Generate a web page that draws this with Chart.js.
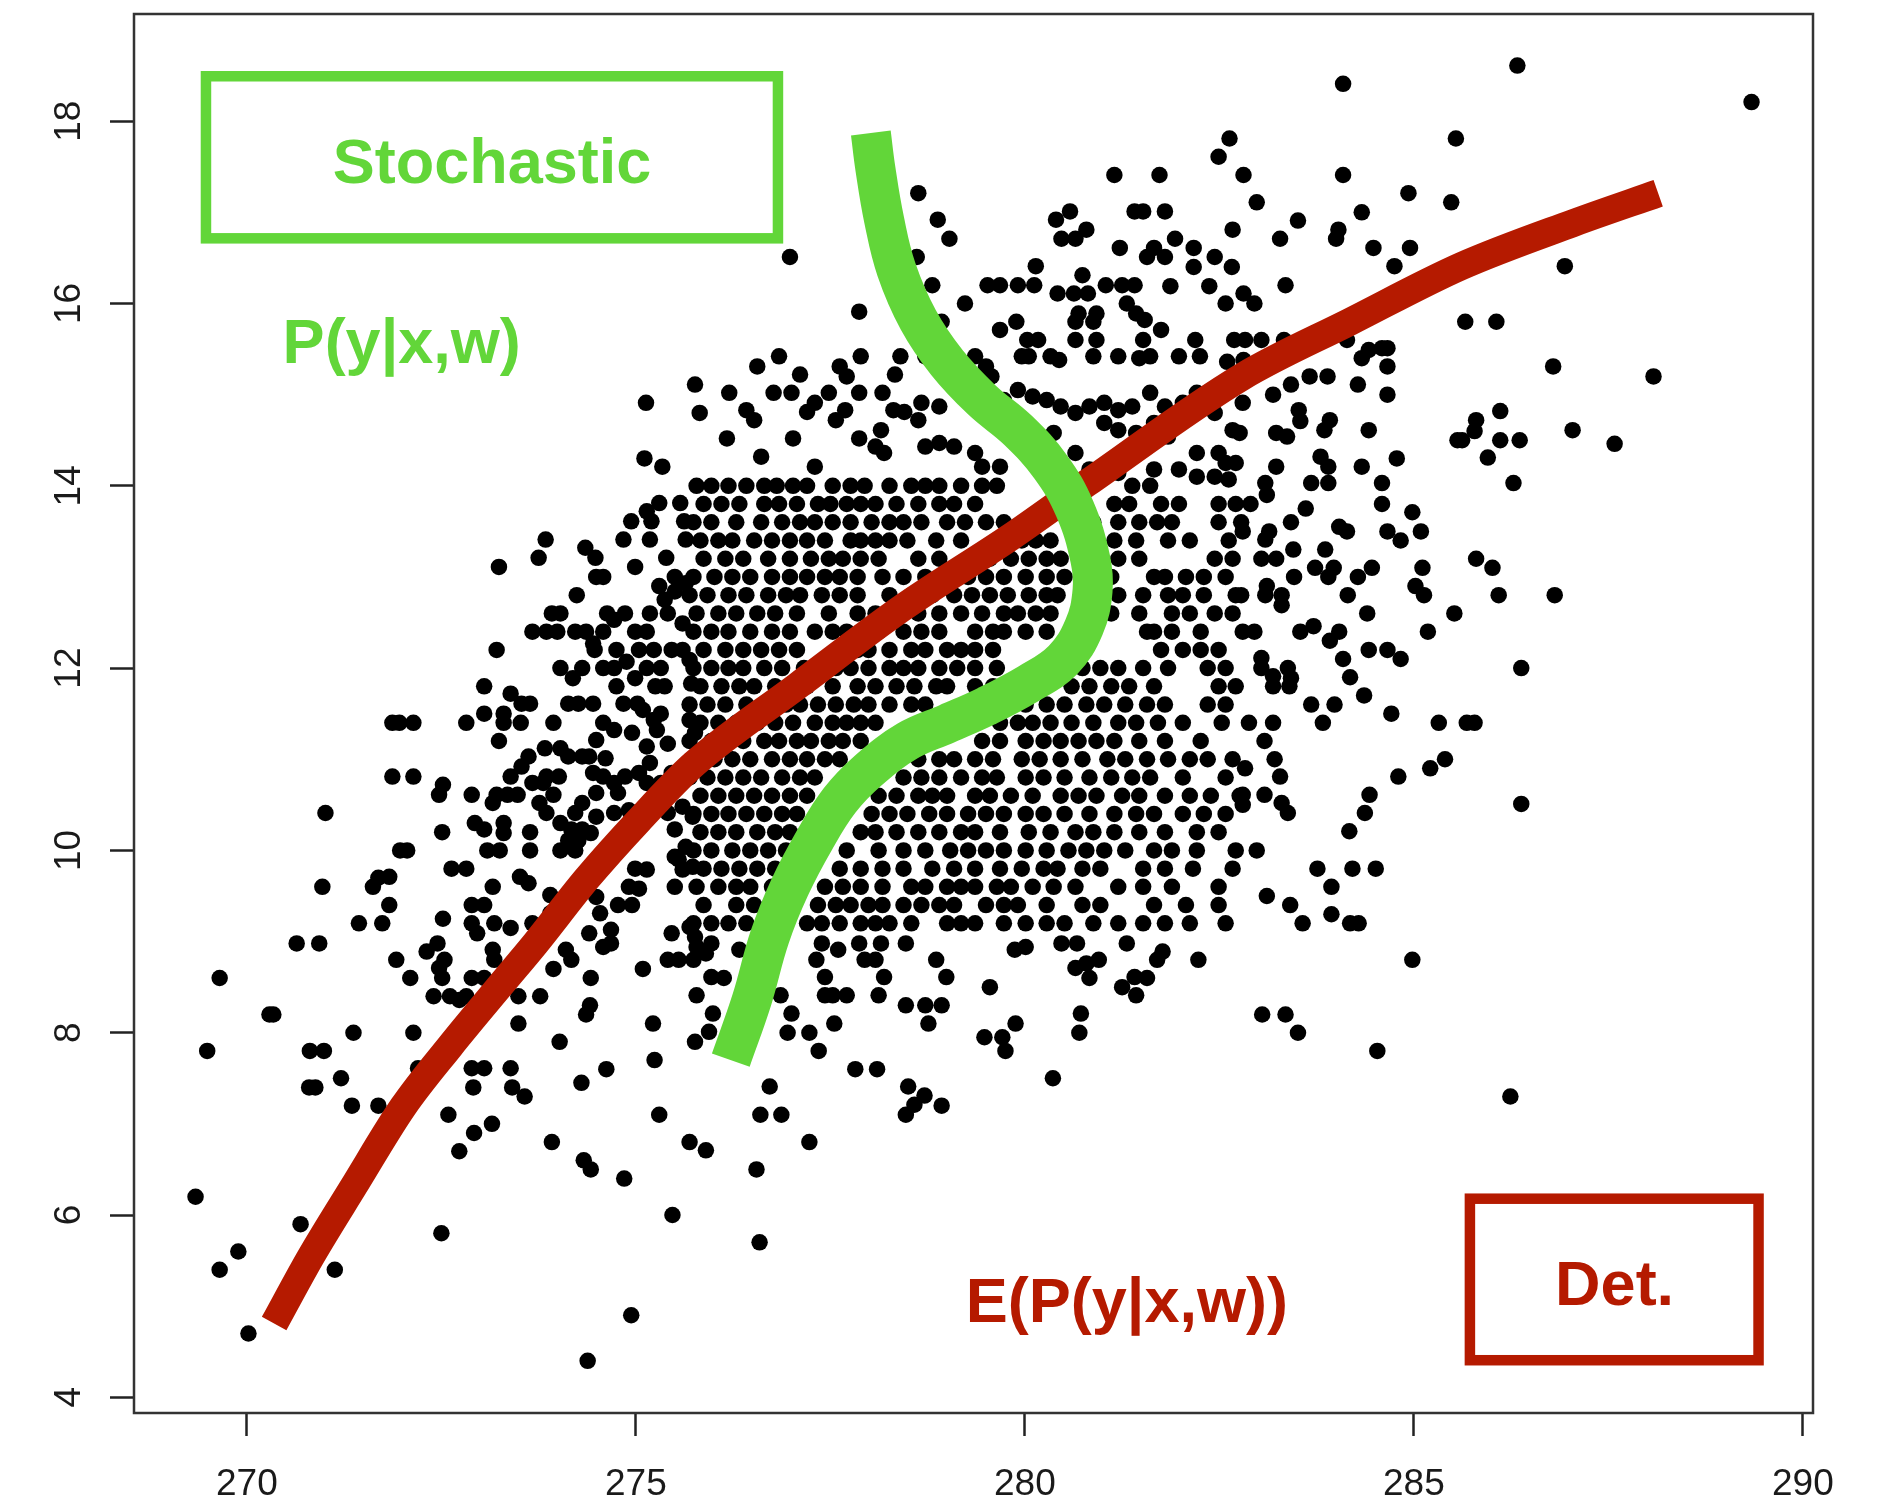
<!DOCTYPE html>
<html>
<head>
<meta charset="utf-8">
<script src="https://cdn.jsdelivr.net/npm/chart.js@4.4.1/dist/chart.umd.min.js"></script>
<style>
  html, body { margin: 0; padding: 0; background: #fff; }
</style>
</head>
<body>
<canvas id="scatterCanvas" width="1885" height="1504"></canvas>
<script>
const xTicks = [270, 275, 280, 285, 290];
const yTicks = [4, 6, 8, 10, 12, 14, 16, 18];

// scattered points, read one by one
const outerPoints = [
  [275.13,14.91],[275.76,15.11],[275.82,14.8],[275.11,14.3],[275.34,14.21],
  [278.63,17.21],[278.88,16.92],[279.03,16.71],[276.98,16.51],[281.15,17.41],[281.73,17.41],[282.63,17.81],[282.49,17.61],[282.81,17.41],
  [280.58,17.01],[280.4,16.92],[280.79,16.81],[280.47,16.71],[280.65,16.71],
  [281.41,17.01],[281.52,17.01],[281.8,17.01],[281.22,16.61],[281.66,16.61],[281.57,16.51],[281.8,16.51],[281.93,16.71],[282.17,16.61],[282.17,16.4],[282.44,16.51],[282.66,16.4],[282.67,16.81],
  [281.87,16.19],[282.37,16.19],[282.58,16.0],[282.81,16.11],[282.83,15.6],[282.81,15.38],
  [280.14,16.41],[280.74,16.31],[279.52,16.2],[279.68,16.2],[279.91,16.2],[280.12,16.2],
  [280.42,16.11],[280.63,16.11],[280.81,16.11],[281.04,16.2],[281.25,16.2],[281.41,16.2],
  [279.23,16.0],[278.81,16.2],[278.61,16.51],[280.69,15.89],[280.92,15.89],
  [281.31,16.0],[281.43,15.89],[281.54,15.82],[281.75,15.71],[279.68,15.71],[279.89,15.8],
  [280.65,15.8],[280.88,15.8],[280.03,15.6],[280.17,15.6],[280.65,15.6],[280.92,15.6],[281.52,15.6],[282.19,15.6],[282.69,15.6],
  [278.93,15.8],[277.87,15.91],[278.4,15.42],[278.72,15.42],[279.36,15.42],[279.5,15.31],[279.57,15.2],
  [279.96,15.42],[280.05,15.42],[280.33,15.42],[280.44,15.38],[280.88,15.42],[281.2,15.42],[281.47,15.4],[281.61,15.42],[281.98,15.42],[282.25,15.42],[282.6,15.36],
  [276.84,15.42],[276.56,15.31],[277.11,15.22],[277.62,15.31],[277.71,15.2],[277.89,15.42],
  [276.2,15.02],[276.77,15.02],[277.0,15.02],
  [276.42,14.83],[276.52,14.72],[277.2,14.81],[277.3,14.91],[277.48,15.02],[277.57,14.72],[277.69,14.83],[277.87,15.02],[278.17,15.02],[278.33,15.22],
  [276.17,14.52],[276.61,14.32],[277.02,14.52],[277.3,14.21],[277.87,14.52],[278.15,14.61],[278.08,14.43],[278.19,14.36],
  [278.45,14.81],[278.63,14.72],[278.31,14.83],[278.67,14.91],[278.9,14.87],
  [278.72,14.43],[278.9,14.47],[279.09,14.43],[279.36,14.36],[279.45,14.21],[279.68,14.21],
  [279.73,14.94],[279.91,15.05],[280.1,14.98],[280.28,14.94],
  [280.46,14.87],[280.65,14.8],[280.83,14.87],[281.02,14.91],[281.2,14.83],[281.38,14.87],
  [281.61,15.02],[281.8,14.87],[282.03,14.91],[282.21,15.02],[282.44,14.8],[282.67,14.61],
  [281.02,14.69],[281.2,14.61],[281.43,14.58],[281.66,14.69],[281.84,14.54],
  [282.21,14.36],[282.49,14.36],[282.71,14.25],[281.98,14.18],[282.21,14.1],
  [281.43,14.36],[281.66,14.18],[281.02,14.1],[281.2,14.14],[280.65,14.36],[280.83,14.18],
  [280.37,14.58],[280.28,14.43],[279.96,14.43],[280.1,14.32],[282.44,14.1],[282.58,14.25],
  [282.76,14.58],[282.62,14.07],
  [284.09,18.41],[286.33,18.61],[289.34,18.21],[285.54,17.81],[284.09,17.41],[282.98,17.11],[285.48,17.11],[284.93,17.21],[284.33,17.0],[283.51,16.91],
  [283.28,16.71],[284.03,16.81],[284.0,16.71],[284.48,16.61],[284.95,16.61],[284.75,16.41],[286.94,16.41],
  [283.35,16.2],[282.95,16.0],[285.66,15.8],[286.06,15.8],[283.04,15.6],[283.33,15.6],[284.14,15.6],
  [284.42,15.49],[284.59,15.51],[284.66,15.51],[284.33,15.4],[284.66,15.31],
  [283.66,15.2],[283.89,15.2],[284.28,15.11],[284.66,15.0],[283.19,15.0],[283.42,15.11],[282.8,14.91],
  [286.79,15.31],[288.08,15.2],[286.11,14.82],[285.8,14.72],[285.78,14.6],[285.56,14.5],[285.62,14.5],
  [286.11,14.5],[286.36,14.5],[287.04,14.61],[287.58,14.46],[285.95,14.31],
  [283.52,14.83],[283.54,14.71],[283.23,14.58],[283.37,14.54],
  [283.92,14.72],[283.85,14.61],[284.42,14.61],[284.78,14.3],[283.8,14.32],[283.9,14.21],[284.33,14.21],[283.23,14.21],
  [283.09,14.03],[283.68,14.03],[283.9,14.03],[284.59,14.03],[286.28,14.03],
  [282.9,13.8],[283.11,13.9],[283.61,13.75],[283.42,13.6],[284.59,13.8],[284.98,13.71],[285.09,13.5],[284.66,13.5],[284.83,13.4],
  [284.04,13.55],[284.14,13.5],[282.8,13.5],[283.14,13.5],[283.09,13.41],[283.45,13.3],[283.86,13.3],[283.04,13.2],[283.23,13.2],
  [283.73,13.1],[283.97,13.1],[283.9,13.0],[284.28,13.0],[284.46,13.1],[283.46,13.0],[285.11,13.1],[285.8,13.2],[286.01,13.1],
  [286.09,12.8],[286.81,12.8],[285.02,12.9],[285.13,12.8],[284.15,12.8],[283.11,12.9],[283.09,12.8],[283.3,12.8],[283.3,12.69],[282.78,12.8],
  [284.4,12.6],[285.52,12.6],[282.8,12.4],[282.95,12.4],[283.54,12.4],[283.71,12.46],[284.04,12.4],[283.92,12.3],[285.18,12.4],
  [284.42,12.2],[284.66,12.2],[284.83,12.1],[284.09,12.1],[284.18,11.9],[284.36,11.7],
  [283.04,12.11],[283.04,12.0],[283.19,11.91],[283.38,12.0],[283.42,11.89],[283.19,11.8],[283.4,11.8],[286.38,12.0],
  [283.68,11.6],[283.98,11.6],[284.71,11.5],[282.88,11.4],[283.19,11.4],[283.83,11.4],[285.32,11.4],[285.68,11.4],[285.78,11.4],
  [283.08,11.2],[283.21,11.0],[282.83,10.9],[283.28,10.81],[285.21,10.9],[285.4,11.0],[284.8,10.81],
  [282.8,10.61],[282.8,10.5],[283.08,10.61],[283.3,10.52],[283.38,10.41],[284.43,10.61],[284.37,10.41],[286.38,10.51],
  [284.17,10.21],[282.98,10.0],[283.76,9.8],[284.21,9.8],[284.51,9.8],[283.94,9.6],[283.11,9.5],[283.41,9.4],[283.94,9.3],
  [283.57,9.2],[284.18,9.2],[284.29,9.2],
  [284.98,8.8],[283.05,8.2],[283.35,8.2],[283.51,8.0],[284.53,7.8],[286.24,7.3],
  [275.78,8.94],[275.97,8.98],[276.33,8.91],[275.9,8.87],[275.74,8.8],[275.97,8.61],[276.13,8.6],[275.78,8.41],[275.99,8.21],[275.94,8.01],[275.76,7.9],
  [276.86,8.41],[277.0,8.21],[276.95,8.0],[277.23,8.0],[277.35,7.8],[277.55,8.1],
  [277.39,8.98],[277.6,8.91],[277.32,8.8],[277.43,8.61],[277.43,8.41],[277.53,8.41],[277.71,8.41],
  [277.87,8.98],[278.15,8.98],[278.47,8.98],[277.94,8.8],[278.08,8.8],[278.19,8.61],[278.12,8.41],
  [278.86,8.8],[278.99,8.61],[278.47,8.3],[278.72,8.3],[278.93,8.3],[278.76,8.1],[279.55,8.5],
  [279.87,8.91],[280.01,8.94],[280.47,8.98],[280.67,8.98],[279.48,7.95],[279.71,7.95],[279.75,7.8],[279.88,8.1],
  [280.65,8.71],[280.79,8.76],[280.95,8.8],[280.83,8.6],[280.72,8.21],[280.7,8.0],[280.36,7.5],
  [281.31,8.98],[281.77,8.89],[281.7,8.8],[282.23,8.8],[281.25,8.5],[281.41,8.61],[281.57,8.6],[281.43,8.41],
  [277.82,7.6],[278.1,7.6],[276.72,7.41],[276.6,7.1],[276.87,7.1],[278.5,7.41],[278.71,7.31],[278.58,7.21],[278.47,7.1],[278.93,7.2],
  [277.23,6.8],[275.9,6.71],[275.69,6.8],[276.55,6.5],[276.59,5.7],
  [270.64,8.98],[270.93,8.98],[269.65,8.6],[270.29,8.2],[270.34,8.2],[269.49,7.8],[270.81,7.8],[270.99,7.8],[270.8,7.4],[270.88,7.4],
  [271.21,7.5],[271.37,8.0],[272.14,8.0],[271.92,8.8],[272.1,8.6],
  [272.31,8.89],[272.45,8.98],[272.54,8.8],[272.47,8.71],[272.51,8.6],[272.4,8.4],[272.61,8.4],[272.73,8.36],[272.82,8.4],[272.89,8.6],[273.05,8.6],[273.16,8.91],[273.18,8.8],
  [271.35,7.2],[271.69,7.2],[272.2,7.61],[272.89,7.61],[273.05,7.61],[272.91,7.4],[273.39,7.61],[273.41,7.4],[273.57,7.3],[272.59,7.1],[272.92,6.9],[273.15,7.0],[272.73,6.7],
  [273.49,8.4],[273.77,8.4],[273.49,8.1],[273.94,8.7],[274.1,8.91],[274.17,8.8],[274.42,8.6],[274.41,8.3],[274.36,8.2],[274.02,7.9],[274.58,8.94],[274.68,8.98],
  [275.09,8.7],[275.41,8.8],[275.55,8.8],[275.22,8.1],[275.24,7.7],[274.62,7.6],[274.3,7.45],[275.3,7.1],
  [273.92,6.8],[274.33,6.6],[274.42,6.5],[274.85,6.4],[275.47,6.0],[274.94,4.9],[274.38,4.4],[272.5,5.8],
  [269.34,6.2],[270.69,5.9],[269.89,5.6],[269.65,5.4],[271.13,5.4],[270.02,4.7],
  [273.84,13.41],[273.75,13.21],[273.24,13.11],[274.35,13.32],[274.48,13.21],[274.24,12.8],[274.49,13.0],[274.58,13.0],
  [274.84,13.41],[274.94,13.61],[275.14,13.72],[275.3,13.81],[275.2,13.61],[275.18,13.41],
  [275.57,13.81],[275.62,13.61],[275.64,13.41],[275.39,13.21],[274.99,13.11],[275.5,13.0],[275.3,12.9],
  [273.21,12.2],[273.67,12.4],[273.85,12.4],[273.99,12.4],[273.92,12.6],[274.03,12.6],
  [274.22,12.4],[274.36,12.4],[274.45,12.27],[274.47,12.2],
  [274.58,12.4],[274.72,12.53],[274.86,12.6],[274.63,12.6],[274.99,12.4],[275.14,12.4],
  [275.18,12.6],[275.37,12.75],[275.5,12.84],[275.64,12.93],[275.41,12.6],[275.6,12.49],
  [274.75,12.2],[274.72,12.0],[274.88,12.07],[275.04,12.2],[275.14,12.0],[275.23,12.2],[275.32,12.0],
  [275.46,12.2],[275.6,12.2],[275.69,12.09],[274.03,12.0],[274.19,11.89],[274.31,12.0],[274.58,12.0],[274.99,11.89],
  [274.75,11.8],[275.25,11.8],[275.37,11.8],[275.71,11.83],[273.05,11.8],
  [273.05,11.5],[272.82,11.4],[273.3,11.5],[273.39,11.72],[273.53,11.61],[273.64,11.61],[273.3,11.4],[273.52,11.4],[273.24,11.2],
  [273.94,11.4],[274.13,11.61],[274.26,11.61],[274.45,11.61],[274.58,11.4],[274.72,11.32],[274.84,11.61],
  [275.02,11.61],[275.09,11.54],[275.23,11.43],[275.32,11.5],[274.95,11.29],[275.14,11.14],[275.27,11.32],[275.41,11.17],
  [275.69,11.43],[275.76,11.29],[274.49,11.21],
  [271.87,11.4],[271.96,11.4],[272.14,11.4],[271.87,10.81],[272.14,10.81],
  [272.52,10.72],[272.47,10.61],[272.89,10.61],[273.21,10.61],[273.35,10.61],[273.48,10.61],[273.16,10.52],
  [273.67,10.74],[273.81,10.74],[273.94,10.61],[273.76,10.52],[273.85,10.41],
  [273.39,10.81],[273.53,10.92],[273.62,11.03],
  [273.83,11.12],[274.03,11.12],[274.13,11.03],[274.31,11.03],[274.4,11.03],
  [273.85,10.81],[274.01,10.81],[274.45,10.85],[274.58,10.81],[274.72,10.74],[274.86,10.81],[274.61,11.01],
  [274.49,10.63],[274.77,10.63],[274.31,10.52],[274.22,10.41],[274.49,10.37],[274.72,10.41],[274.91,10.44],
  [274.03,10.3],[274.17,10.23],[274.31,10.23],[274.13,10.11],[274.26,10.11],[274.42,10.19],[274.03,10.0],[274.22,10.0],
  [275.23,10.48],[275.14,10.37],[275.41,10.41],[275.6,10.48],[275.73,10.37],
  [275.04,10.85],[275.18,10.96],[275.32,10.74],[275.14,10.74],[275.46,10.85],
  [275.5,10.23],[275.64,10.04],[275.55,9.9],[275.73,9.82],
  [272.93,10.3],[273.05,10.23],[273.3,10.3],[273.3,10.19],[273.64,10.2],[273.09,10.0],[273.25,10.0],[273.64,10.0],
  [272.51,10.2],[271.01,10.41],[271.97,10.0],[272.06,10.0],[272.63,9.8],[272.82,9.8],[271.69,9.7],[271.83,9.71],[271.62,9.6],[270.97,9.6],
  [271.83,9.4],[271.44,9.2],[271.74,9.2],
  [272.52,9.25],[272.89,9.4],[273.05,9.4],[273.16,9.6],[273.51,9.71],[273.62,9.64],[273.9,9.51],
  [272.89,9.2],[272.96,9.09],[273.18,9.2],[273.39,9.15],[273.67,9.2],[273.9,9.31],
  [274.49,9.49],[274.54,9.31],[274.68,9.13],[274.4,9.09],
  [274.77,9.4],[274.95,9.4],[275.04,9.58],[275.14,9.79],[274.91,9.6],[274.99,9.8],
  [275.5,9.93],[275.6,9.79],[275.5,9.6],[275.46,9.09],[275.76,9.05],[275.69,9.16]
];

// dense core, one row per y level: [y, x values]
const coreRows = [
  [14.0, [275.78,275.97,276.19,276.42,276.65,276.81,277.02,277.2,277.53,277.76,277.94,278.26,278.54,278.72,278.9,279.18,279.45,279.64,281.38,281.61]],
  [13.8, [275.87,276.1,276.33,276.65,276.84,277.07,277.34,277.5,277.71,277.89,278.08,278.35,278.63,278.9,279.09,279.36,281.15,281.34,281.75,281.98,282.49,282.71]],
  [13.6, [275.74,275.97,276.29,276.61,276.88,277.11,277.3,277.53,277.76,278.03,278.26,278.44,278.67,279.0,279.23,279.5,279.73,280.88,281.2,281.47,281.7,281.89,282.49,282.78]],
  [13.4, [275.83,276.06,276.24,276.52,276.75,276.98,277.2,277.43,277.76,277.89,278.08,278.26,278.49,278.86,279.18,279.73,279.96,280.14,280.33,281.15,281.43,281.84,282.12,282.62]],
  [13.2, [275.87,276.15,276.38,276.7,276.98,277.25,277.48,277.66,277.89,278.12,278.63,278.9,279.36,279.55,279.82,280.05,280.28,280.46,281.2,281.47,282.44,282.67]],
  [13.0, [275.74,276.01,276.24,276.47,276.75,276.98,277.2,277.43,277.62,277.85,278.17,278.44,278.72,278.99,279.27,279.5,279.73,280.01,280.28,280.51,281.11,281.66,281.8,282.07,282.3,282.58]],
  [12.8, [275.69,275.92,276.19,276.42,276.7,276.93,277.11,277.39,277.62,277.85,278.26,278.54,278.81,279.09,279.32,279.55,279.78,280.05,280.28,280.42,280.97,281.2,281.52,281.84,282.03,282.3,282.71]],
  [12.6, [275.78,276.06,276.29,276.56,276.79,277.07,277.48,277.85,278.08,278.26,278.63,278.9,279.18,279.45,279.73,279.91,280.14,280.33,281.11,281.47,281.89,282.12,282.44,282.67]],
  [12.4, [275.74,275.97,276.19,276.47,276.75,276.98,277.3,277.53,277.71,277.89,278.12,278.44,278.67,278.9,279.36,279.59,279.73,280.01,280.28,281.57,281.66,281.89,282.26]],
  [12.2, [275.87,276.15,276.38,276.61,276.84,277.07,277.62,277.85,277.99,278.26,278.54,278.72,279.0,279.18,279.36,279.59,281.75,282.03,282.26,282.49]],
  [12.0, [275.74,275.97,276.19,276.38,276.65,276.88,277.16,277.57,277.76,277.99,278.26,278.44,278.63,278.9,279.13,279.36,279.64,280.74,280.97,281.2,281.52,281.84,282.35,282.58]],
  [11.8, [275.83,276.1,276.33,276.52,276.79,276.98,277.2,277.53,277.85,278.08,278.35,278.58,278.86,279.0,279.36,279.59,280.6,280.83,281.11,281.34,281.66,282.49,282.71]],
  [11.6, [275.69,275.92,276.15,276.42,276.65,276.93,277.11,277.34,277.57,277.8,277.99,278.26,278.54,278.72,280.01,280.28,280.51,280.79,281.02,281.29,281.57,281.8,282.35,282.58]],
  [11.4, [275.83,276.06,276.29,276.56,276.79,277.02,277.3,277.53,277.71,277.89,278.08,279.68,279.91,280.1,280.33,280.6,280.88,281.2,281.43,281.71,282.03,282.53]],
  [11.2, [275.69,275.97,276.15,276.38,276.65,276.84,277.07,277.25,277.48,277.66,277.89,279.45,279.68,280.01,280.24,280.46,280.69,280.92,281.15,281.47,281.8,282.26]],
  [11.0, [275.78,276.01,276.24,276.47,276.75,276.98,277.2,277.43,277.62,278.63,278.9,279.09,279.36,279.59,279.96,280.19,280.46,280.74,281.06,281.29,281.57,281.84,282.12,282.35,282.67]],
  [10.8, [275.69,275.92,276.15,276.38,276.61,276.88,277.11,277.3,278.44,278.67,278.9,279.18,279.45,279.64,280.01,280.24,280.51,280.83,281.11,281.38,281.61,282.03,282.58]],
  [10.6, [275.83,276.06,276.29,276.52,276.75,276.98,277.2,278.12,278.35,278.63,278.81,279.0,279.36,279.55,279.82,280.1,280.46,280.69,280.92,281.25,281.47,281.8,282.12,282.39,282.76]],
  [10.4, [275.74,275.97,276.19,276.42,276.65,276.88,277.07,278.03,278.26,278.49,278.77,279.0,279.27,279.5,279.73,280.01,280.24,280.51,280.83,281.15,281.43,281.66,282.03,282.3,282.58]],
  [10.2, [275.83,276.06,276.29,276.56,276.79,276.98,277.89,278.08,278.35,278.63,278.9,279.18,279.36,279.68,280.05,280.33,280.65,280.88,281.15,281.47,281.8,282.21,282.49]],
  [10.0, [275.74,275.97,276.24,276.47,276.7,276.93,277.71,278.12,278.44,278.72,279.04,279.27,279.5,279.73,280.01,280.28,280.56,280.79,281.02,281.29,281.66,281.89,282.21,282.71]],
  [9.8, [275.87,276.1,276.33,276.56,276.79,277.62,277.89,278.17,278.44,278.81,279.09,279.36,279.68,279.96,280.24,280.42,280.74,280.97,281.52,281.8,282.16,282.67]],
  [9.6, [275.78,276.06,276.29,276.47,276.75,277.43,277.66,277.89,278.17,278.54,278.72,279.0,279.18,279.36,279.64,279.82,280.1,280.37,280.65,281.2,281.52,281.89,282.49]],
  [9.4, [275.87,276.29,276.52,276.75,277.34,277.57,277.76,277.99,278.17,278.44,278.67,278.9,279.09,279.5,279.73,279.91,280.28,280.74,280.97,281.66,282.07,282.49]],
  [9.2, [275.74,275.97,276.19,276.42,277.2,277.39,277.62,277.89,278.08,278.26,278.54,279.0,279.18,279.36,279.73,280.01,280.28,280.51,280.88,281.2,281.52,281.8,282.12,282.58]]
];

// E(P(y|x,w)) curve
const meanCurve = [
  [270.35,4.81],[270.82,5.54],[271.37,6.31],[272.01,7.19],[272.61,7.85],[273.21,8.47],[273.71,8.98],
  [274.36,9.68],[275.04,10.33],[275.75,10.95],[277.07,11.8],[278.44,12.67],[279.82,13.44],[280.8,14.03],
  [282.8,15.2],[284.18,15.8],[285.61,16.41],[287.04,16.88],[288.14,17.21]
];

// P(y|x,w) curve, drawn in order from top to bottom
const spreadCurve = [
  [278.02,17.87],[278.08,17.47],[278.19,16.92],[278.35,16.37],[278.63,15.82],[279.0,15.35],[279.45,14.94],
  [279.91,14.61],[280.33,14.21],[280.64,13.75],[280.84,13.2],[280.87,12.85],[280.76,12.45],[280.49,12.09],
  [280.05,11.83],[279.5,11.58],[279.0,11.39],[278.49,11.2],[277.99,10.88],[277.62,10.55],[277.3,10.12],
  [276.98,9.6],[276.72,9.05],[276.49,8.36],[276.22,7.7]
];

const GREEN = '#62d639';
const RED = '#b51a00';
const TICK_FONT = '37px "Liberation Sans", Arial, sans-serif';
const LABEL_FONT = 'bold 63px "Liberation Sans", Arial, sans-serif';

const cloud = outerPoints.map(([x, y]) => ({ x, y }))
  .concat(coreRows.flatMap(([y, xs]) => xs.map(x => ({ x, y }))));

function strokeBox(ctx, xs, ys, x0, x1, y0, y1) {
  const l = xs.getPixelForValue(x0), r = xs.getPixelForValue(x1);
  const t = ys.getPixelForValue(y0), b = ys.getPixelForValue(y1);
  ctx.strokeRect(l, t, r - l, b - t);
}

function label(ctx, xs, ys, text, x, y, color) {
  ctx.fillStyle = color;
  ctx.fillText(text, xs.getPixelForValue(x), ys.getPixelForValue(y));
}

const annotations = {
  id: 'annotations',
  afterDatasetsDraw(chart) {
    const { ctx, scales: { x, y } } = chart;
    ctx.save();
    ctx.lineWidth = 10.5;
    ctx.strokeStyle = GREEN;
    strokeBox(ctx, x, y, 269.474, 276.826, 18.493, 16.715);
    ctx.strokeStyle = RED;
    strokeBox(ctx, x, y, 285.72, 289.43, 6.179, 4.407);

    ctx.font = LABEL_FONT;
    ctx.textAlign = 'center';
    ctx.textBaseline = 'alphabetic';
    label(ctx, x, y, 'Stochastic', 273.15, 17.32, GREEN);
    label(ctx, x, y, 'P(y|x,w)', 271.99, 15.344, GREEN);
    label(ctx, x, y, 'E(P(y|x,w))', 281.31, 4.829, RED);
    label(ctx, x, y, 'Det.', 287.58, 5.013, RED);
    ctx.restore();
  },
  afterDraw(chart) {
    const { ctx, chartArea: a, scales: { y } } = chart;
    ctx.save();
    // R style box round the plot
    ctx.lineWidth = 2.5;
    ctx.strokeStyle = '#333';
    ctx.strokeRect(a.left, a.top, a.right - a.left, a.bottom - a.top);

    // y tick labels, turned like R's las = 0
    ctx.font = TICK_FONT;
    ctx.fillStyle = '#1a1a1a';
    ctx.textAlign = 'center';
    ctx.textBaseline = 'alphabetic';
    yTicks.forEach(v => {
      ctx.save();
      ctx.translate(80, y.getPixelForValue(v));
      ctx.rotate(-Math.PI / 2);
      ctx.fillText(String(v), 0, 0);
      ctx.restore();
    });
    ctx.restore();
  }
};

const tickGrid = {
  drawOnChartArea: false,
  drawTicks: true,
  tickWidth: 2.5,
  tickColor: '#222'
};

new Chart(document.getElementById('scatterCanvas'), {
  type: 'scatter',
  data: {
    datasets: [
      {
        label: 'observations',
        data: cloud,
        order: 3,
        pointRadius: 8.25,
        pointHoverRadius: 8.25,
        pointBackgroundColor: '#000',
        pointBorderWidth: 0,
        showLine: false
      },
      {
        label: 'E(P(y|x,w))',
        data: meanCurve.map(([x, y]) => ({ x, y })),
        order: 2,
        showLine: true,
        borderColor: RED,
        borderWidth: 28,
        borderCapStyle: 'butt',
        borderJoinStyle: 'round',
        cubicInterpolationMode: 'monotone',
        pointRadius: 0
      },
      {
        label: 'P(y|x,w)',
        data: spreadCurve.map(([x, y]) => ({ x, y })),
        order: 1,
        showLine: true,
        borderColor: GREEN,
        borderWidth: 40,
        borderCapStyle: 'butt',
        borderJoinStyle: 'round',
        tension: 0.4,
        pointRadius: 0
      }
    ]
  },
  options: {
    responsive: false,
    animation: false,
    events: [],
    layout: { padding: { left: 0, top: 14, right: 72, bottom: 0 } },
    plugins: { legend: { display: false }, tooltip: { enabled: false } },
    scales: {
      x: {
        type: 'linear',
        min: 268.549,
        max: 290.13,
        afterBuildTicks: s => { s.ticks = xTicks.map(v => ({ value: v })); },
        afterFit: s => { s.height = 91; },
        border: { display: false },
        grid: Object.assign({ tickLength: 23 }, tickGrid),
        ticks: {
          color: '#1a1a1a',
          font: { family: '"Liberation Sans", Arial, sans-serif', size: 37 },
          padding: 27,
          maxRotation: 0,
          autoSkip: false
        }
      },
      y: {
        type: 'linear',
        min: 3.828,
        max: 19.176,
        afterBuildTicks: s => { s.ticks = yTicks.map(v => ({ value: v })); },
        afterFit: s => { s.width = 134; },
        border: { display: false },
        grid: Object.assign({ tickLength: 24 }, tickGrid),
        ticks: { display: false }
      }
    }
  },
  plugins: [annotations]
});
</script>
</body>
</html>
